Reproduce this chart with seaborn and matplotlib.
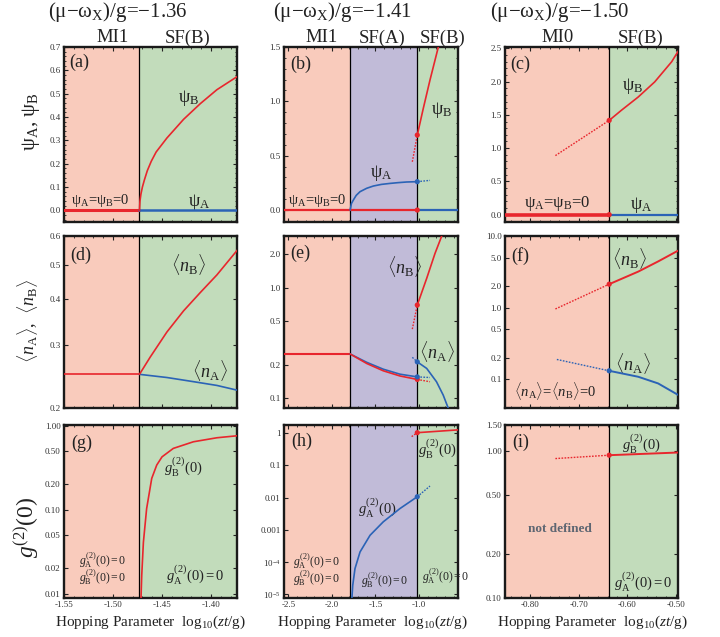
import numpy as np
import pandas as pd
import matplotlib
matplotlib.use("Agg")
import matplotlib.pyplot as plt
import seaborn as sns
from matplotlib.ticker import FixedLocator, FixedFormatter, AutoMinorLocator, NullLocator, NullFormatter

sns.set_theme(style="ticks")
plt.rcParams['font.family'] = ['Liberation Serif', 'DejaVu Serif']
plt.rcParams['mathtext.fontset'] = 'custom'
plt.rcParams['mathtext.rm'] = 'Liberation Serif'
plt.rcParams['mathtext.it'] = 'Liberation Serif:italic'
plt.rcParams['mathtext.bf'] = 'Liberation Serif:bold'
plt.rcParams['axes.unicode_minus'] = False

# ---------------- data ----------------
titles = ["(μ−ω$_{\\mathrm{X}}$)/g=−1.36", "(μ−ω$_{\\mathrm{X}}$)/g=−1.41", "(μ−ω$_{\\mathrm{X}}$)/g=−1.50"]

# phase boundaries
col1_bound = -1.473
col2_bounds = [-1.79, -1.018]
col3_bound = -0.637

# panel (a)
a_x_B = [-1.473, -1.4725, -1.4715, -1.470, -1.468, -1.465, -1.461, -1.456, -1.445, -1.428, -1.411, -1.394, -1.373]
a_psi_B = [0.0, 0.04, 0.07, 0.10, 0.13, 0.17, 0.21, 0.25, 0.31, 0.39, 0.457, 0.517, 0.574]

# panel (b)
b_x_A = [-1.79, -1.775, -1.753, -1.72, -1.676, -1.6, -1.523, -1.43, -1.332, -1.24, -1.14, -1.018]
b_psi_A = [0.0, 0.06, 0.092, 0.135, 0.169, 0.2, 0.221, 0.236, 0.245, 0.252, 0.258, 0.261]
b_x_A_dot = [-1.018, -0.872]
b_psi_A_dot = [0.261, 0.273]
b_x_B = [-1.018, -0.949, -0.872, -0.776, -0.76]
b_psi_B = [0.69, 0.935, 1.196, 1.5, 1.55]
b_x_B_dot = [-1.075, -1.018]
b_psi_B_dot = [0.444, 0.69]

# panel (c)
c_x_B = [-0.637, -0.612, -0.577, -0.543, -0.508, -0.491]
c_psi_B = [1.417, 1.568, 1.769, 1.996, 2.299, 2.50]
c_x_B_dot = [-0.748, -0.637]
c_psi_B_dot = [0.888, 1.417]

# panel (d)
d_n_MI = 0.248
d_x_SF = [-1.473, -1.462, -1.445, -1.428, -1.411, -1.394, -1.373]
d_n_B = [0.248, 0.277, 0.325, 0.372, 0.418, 0.468, 0.549]
d_n_A = [0.248, 0.246, 0.243, 0.239, 0.235, 0.231, 0.224]

# panel (e)
e_n_MI = 0.25
e_x_SFA = [-1.79, -1.599, -1.409, -1.217, -1.018]
e_nB_SFA = [0.25, 0.205, 0.176, 0.158, 0.147]
e_nA_SFA = [0.25, 0.210, 0.182, 0.164, 0.155]
e_x_SFA_dot = [-1.018, -0.872]
e_nA_SFA_dot = [0.155, 0.153]
e_nB_SFA_dot = [0.147, 0.140]
e_x_B_SFB = [-1.018, -0.91, -0.814, -0.737]
e_nB_SFB = [0.694, 1.21, 2.04, 2.93]
e_x_B_dot = [-1.075, -1.018]
e_nB_dot = [0.42, 0.694]
e_x_A_SFB = [-1.018, -0.91, -0.797, -0.72, -0.663]
e_nA_SFB = [0.212, 0.185, 0.14, 0.106, 0.081]
e_x_A_dot = [-1.075, -1.018]
e_nA_dot = [0.233, 0.212]

# panel (f)
f_x = [-0.637, -0.577, -0.536, -0.495]
f_n_B = [2.13, 3.19, 4.42, 6.24]
f_n_A = [0.132, 0.109, 0.088, 0.061]
f_x_B_dot = [-0.748, -0.637]
f_n_B_dot = [0.961, 2.13]
f_x_A_dot = [-0.745, -0.637]
f_n_A_dot = [0.19, 0.132]

# panel (g)
g_x = [-1.4719, -1.4707, -1.469, -1.4657, -1.4605, -1.4554, -1.450, -1.4385, -1.418, -1.394, -1.373]
g_g2B = [0.006, 0.0165, 0.041, 0.103, 0.236, 0.34, 0.426, 0.537, 0.644, 0.719, 0.76]

# panel (h)
h_x_A = [-1.774, -1.76, -1.734, -1.676, -1.561, -1.409, -1.217, -1.018]
h_g2A = [5e-6, 1.9e-5, 6.3e-5, 2.07e-4, 6.8e-4, 1.78e-3, 4.6e-3, 0.0107]
h_x_A_dot = [-1.018, -0.872]
h_g2A_dot = [0.0107, 0.023]
h_x_B = [-1.018, -0.55]
h_g2B = [1.04, 1.27]
h_x_B_dot = [-1.083, -1.018]
h_g2B_dot = [0.785, 1.04]

# panel (i)
i_x_B = [-0.637, -0.495]
i_g2B = [0.935, 0.975]
i_x_B_dot = [-0.748, -0.637]
i_g2B_dot = [0.887, 0.935]

# axes ranges / ticks
col_xlims = [(-1.55, -1.3735), (-2.55, -0.55), (-0.852, -0.495)]
col_xticks = [[-1.55, -1.50, -1.45, -1.40], [-2.5, -2.0, -1.5, -1.0], [-0.80, -0.70, -0.60, -0.50]]
col_xticklabels = [["-1.55", "-1.50", "-1.45", "-1.40"], ["-2.5", "-2.0", "-1.5", "-1.0"],
                   ["-0.80", "-0.70", "-0.60", "-0.50"]]

a_yticks = [0.0, 0.1, 0.2, 0.3, 0.4, 0.5, 0.6, 0.7]
b_yticks = [0.0, 0.5, 1.0, 1.5]
c_yticks = [0.0, 0.5, 1.0, 1.5, 2.0, 2.5]
d_yticks = [0.2, 0.3, 0.4, 0.5, 0.6]
e_yticks = [0.1, 0.2, 0.5, 1.0, 2.0]
f_yticks = [0.1, 0.2, 0.5, 1.0, 2.0, 5.0, 10.0]
g_yticks = [0.01, 0.02, 0.05, 0.10, 0.20, 0.50, 1.00]
h_yticks = [1e-5, 1e-4, 1e-3, 1e-2, 1e-1, 1]
h_yticklabels = ["$10^{-5}$", "$10^{-4}$", "0.001", "0.01", "0.1", "1"]
i_yticks = [0.10, 0.20, 0.50, 1.00, 1.50]

# ---------------- style ----------------
MI = "#f9cbbc"
SFA = "#c1bbd8"
SFB = "#c2dcbb"
RED = "#e8262d"
BLUE = "#2b63b6"
DOT = (0, (1.2, 1.0))

W, H = 720, 637
fig = plt.figure(figsize=(W / 100, H / 100), dpi=100)

col_left = [64, 284, 505]
col_w = [173, 174, 173]
row_top = [47, 236, 425]
row_bot = [222, 408, 598]

axes = {}
for r in range(3):
    for c in range(3):
        ax = fig.add_axes([col_left[c] / W, 1 - row_bot[r] / H, col_w[c] / W, (row_bot[r] - row_top[r]) / H])
        axes[(r, c)] = ax


def line(ax, x, y, color, lw=1.2, ls='-', z=4):
    df = pd.DataFrame({'x': x, 'y': y})
    sns.lineplot(data=df, x='x', y='y', ax=ax, color=color, linewidth=lw, linestyle=ls,
                 sort=False, estimator=None, zorder=z)


def dots(ax, x, y, color):
    sns.scatterplot(x=x, y=y, ax=ax, color=color, s=14, edgecolor='none', zorder=6)


def setup(ax, col, ylim, yticks, ylabels, log=False, show_x=False):
    ax.set_xlim(col_xlims[col])
    if log:
        ax.set_yscale('log')
    ax.set_ylim(ylim)
    ax.xaxis.set_major_locator(FixedLocator(col_xticks[col]))
    ax.xaxis.set_major_formatter(FixedFormatter(col_xticklabels[col] if show_x else [''] * len(col_xticks[col])))
    ax.xaxis.set_minor_locator(AutoMinorLocator(5))
    ax.yaxis.set_major_locator(FixedLocator(yticks))
    ax.yaxis.set_major_formatter(FixedFormatter(ylabels))
    if log:
        ax.yaxis.set_minor_locator(NullLocator())
        ax.yaxis.set_minor_formatter(NullFormatter())
    else:
        ax.yaxis.set_minor_locator(AutoMinorLocator(5))
    ax.tick_params(which='both', direction='in', top=True, right=True, labelsize=6.5,
                   labelcolor='#333333', pad=2.5, color='#222222')
    ax.tick_params(which='major', length=3, width=0.8)
    ax.tick_params(which='minor', length=1.6, width=0.6)
    for s in ax.spines.values():
        s.set_linewidth(1.7)
        s.set_color('#1a1a1a')
    ax.set_xlabel('')
    ax.set_ylabel('')


def regions(ax, col):
    x0, x1 = col_xlims[col]
    if col == 0:
        ax.axvspan(x0, col1_bound, color=MI, lw=0, zorder=0)
        ax.axvspan(col1_bound, x1, color=SFB, lw=0, zorder=0)
        ax.axvline(col1_bound, color='black', lw=0.9, zorder=3)
    elif col == 1:
        ax.axvspan(x0, col2_bounds[0], color=MI, lw=0, zorder=0)
        ax.axvspan(col2_bounds[0], col2_bounds[1], color=SFA, lw=0, zorder=0)
        ax.axvspan(col2_bounds[1], x1, color=SFB, lw=0, zorder=0)
        for b in col2_bounds:
            ax.axvline(b, color='black', lw=0.9, zorder=3)
    else:
        ax.axvspan(x0, col3_bound, color=MI, lw=0, zorder=0)
        ax.axvspan(col3_bound, x1, color=SFB, lw=0, zorder=0)
        ax.axvline(col3_bound, color='black', lw=0.9, zorder=3)


def txt(ax, x, y, s, size=12, **kw):
    ax.text(x, y, s, transform=ax.transAxes, ha='center', va='center', size=size, color='#222222', **kw)


# ---- (a)
ax = axes[(0, 0)]
regions(ax, 0)
line(ax, [col_xlims[0][0], col1_bound], [0, 0], RED, lw=2.2)
line(ax, [col1_bound, col_xlims[0][1]], [0, 0], BLUE, lw=1.8)
line(ax, a_x_B, a_psi_B, RED)
setup(ax, 0, (-0.05, 0.7), a_yticks, ["%.1f" % v for v in a_yticks])
txt(ax, 0.09, 0.91, "(a)", 13)
txt(ax, 0.72, 0.71, "ψ$_{\\mathrm{B}}$", 13)
txt(ax, 0.78, 0.115, "ψ$_{\\mathrm{A}}$", 13)
txt(ax, 0.21, 0.125, "ψ$_{\\mathrm{A}}$=ψ$_{\\mathrm{B}}$=0", 10.5)

# ---- (b)
ax = axes[(0, 1)]
regions(ax, 1)
line(ax, [col_xlims[1][0], col2_bounds[1]], [0, 0], RED, lw=1.6)
line(ax, [col2_bounds[1], col_xlims[1][1]], [0, 0], BLUE, lw=1.6)
line(ax, b_x_A, b_psi_A, BLUE)
line(ax, b_x_A_dot, b_psi_A_dot, BLUE, lw=1.0, ls=DOT)
line(ax, b_x_B, b_psi_B, RED)
line(ax, b_x_B_dot, b_psi_B_dot, RED, lw=1.0, ls=DOT)
dots(ax, [b_x_B[0]], [b_psi_B[0]], RED)
dots(ax, [b_x_A[-1]], [b_psi_A[-1]], BLUE)
dots(ax, [col2_bounds[1]], [0.0], RED)
setup(ax, 1, (-0.11, 1.5), b_yticks, ["%.1f" % v for v in b_yticks])
txt(ax, 0.095, 0.90, "(b)", 13)
txt(ax, 0.905, 0.64, "ψ$_{\\mathrm{B}}$", 13)
txt(ax, 0.56, 0.28, "ψ$_{\\mathrm{A}}$", 13)
txt(ax, 0.19, 0.122, "ψ$_{\\mathrm{A}}$=ψ$_{\\mathrm{B}}$=0", 10.5)

# ---- (c)
ax = axes[(0, 2)]
regions(ax, 2)
line(ax, [col_xlims[2][0], col3_bound], [0, 0], RED, lw=2.6)
line(ax, [col3_bound, col_xlims[2][1]], [0, 0], BLUE, lw=1.6)
line(ax, c_x_B, c_psi_B, RED)
line(ax, c_x_B_dot, c_psi_B_dot, RED, lw=1.0, ls=DOT)
dots(ax, [c_x_B[0]], [c_psi_B[0]], RED)
dots(ax, [col3_bound], [0.0], RED)
setup(ax, 2, (-0.11, 2.52), c_yticks, ["%.1f" % v for v in c_yticks])
txt(ax, 0.09, 0.90, "(c)", 13)
txt(ax, 0.74, 0.78, "ψ$_{\\mathrm{B}}$", 13)
txt(ax, 0.79, 0.10, "ψ$_{\\mathrm{A}}$", 13)
txt(ax, 0.30, 0.107, "ψ$_{\\mathrm{A}}$=ψ$_{\\mathrm{B}}$=0", 12)

# ---- (d)
ax = axes[(1, 0)]
regions(ax, 0)
line(ax, [col_xlims[0][0], col1_bound], [d_n_MI, d_n_MI], RED)
line(ax, d_x_SF, d_n_A, BLUE)
line(ax, d_x_SF, d_n_B, RED)
setup(ax, 0, (0.2, 0.6), d_yticks, ["%.1f" % v for v in d_yticks], log=True)
txt(ax, 0.095, 0.885, "(d)", 13)
txt(ax, 0.72, 0.835, "$\\langle n_{\\mathrm{B}}\\rangle$", 13)
txt(ax, 0.845, 0.22, "$\\langle n_{\\mathrm{A}}\\rangle$", 13)

# ---- (e)
ax = axes[(1, 1)]
regions(ax, 1)
line(ax, [col_xlims[1][0], col2_bounds[0]], [e_n_MI, e_n_MI], RED, lw=1.5)
line(ax, e_x_SFA, e_nA_SFA, BLUE)
line(ax, e_x_SFA, e_nB_SFA, RED)
line(ax, e_x_SFA_dot, e_nA_SFA_dot, BLUE, lw=1.0, ls=DOT)
line(ax, e_x_SFA_dot, e_nB_SFA_dot, RED, lw=1.0, ls=DOT)
line(ax, e_x_B_SFB, e_nB_SFB, RED)
line(ax, e_x_B_dot, e_nB_dot, RED, lw=1.0, ls=DOT)
line(ax, e_x_A_SFB, e_nA_SFB, BLUE)
line(ax, e_x_A_dot, e_nA_dot, BLUE, lw=1.0, ls=DOT)
dots(ax, [e_x_SFA[-1]], [e_nB_SFA[-1]], RED)
dots(ax, [e_x_SFA[-1]], [e_nA_SFA[-1]], BLUE)
dots(ax, [e_x_A_SFB[0]], [e_nA_SFB[0]], BLUE)
dots(ax, [e_x_B_SFB[0]], [e_nB_SFB[0]], RED)
setup(ax, 1, (0.081, 2.93), e_yticks, ["%.1f" % v for v in e_yticks], log=True)
txt(ax, 0.095, 0.90, "(e)", 13)
txt(ax, 0.69, 0.82, "$\\langle n_{\\mathrm{B}}\\rangle$", 13)
txt(ax, 0.88, 0.33, "$\\langle n_{\\mathrm{A}}\\rangle$", 13)

# ---- (f)
ax = axes[(1, 2)]
regions(ax, 2)
line(ax, f_x, f_n_B, RED, lw=1.4)
line(ax, f_x_B_dot, f_n_B_dot, RED, lw=1.0, ls=DOT)
line(ax, f_x, f_n_A, BLUE, lw=1.4)
line(ax, f_x_A_dot, f_n_A_dot, BLUE, lw=1.0, ls=DOT)
dots(ax, [f_x[0]], [f_n_B[0]], RED)
dots(ax, [f_x[0]], [f_n_A[0]], BLUE)
setup(ax, 2, (0.04, 10.0), f_yticks, ["%.1f" % v for v in f_yticks], log=True)
txt(ax, 0.09, 0.885, "(f)", 13)
txt(ax, 0.72, 0.87, "$\\langle n_{\\mathrm{B}}\\rangle$", 13)
txt(ax, 0.74, 0.26, "$\\langle n_{\\mathrm{A}}\\rangle$", 13)
txt(ax, 0.29, 0.10, "$\\langle n_{\\mathrm{A}}\\rangle$=$\\langle n_{\\mathrm{B}}\\rangle$=0", 10.5)

# ---- (g)
ax = axes[(2, 0)]
regions(ax, 0)
line(ax, g_x, g_g2B, RED)
setup(ax, 0, (0.0089, 1.02), g_yticks, ["%.2f" % v for v in g_yticks], log=True, show_x=True)
txt(ax, 0.10, 0.895, "(g)", 13)
txt(ax, 0.69, 0.76, "$g_{\\mathrm{B}}^{(2)}(0)$", 10.5)
txt(ax, 0.76, 0.133, "$g_{\\mathrm{A}}^{(2)}(0)=0$", 10.5)
txt(ax, 0.225, 0.22, "$g_{\\mathrm{A}}^{(2)}(0)=0$", 8.5)
txt(ax, 0.225, 0.118, "$g_{\\mathrm{B}}^{(2)}(0)=0$", 8.5)

# ---- (h)
ax = axes[(2, 1)]
regions(ax, 1)
line(ax, h_x_A, h_g2A, BLUE)
line(ax, h_x_A_dot, h_g2A_dot, BLUE, lw=1.0, ls=DOT)
line(ax, h_x_B, h_g2B, RED)
line(ax, h_x_B_dot, h_g2B_dot, RED, lw=1.0, ls=DOT)
dots(ax, [h_x_A[-1]], [h_g2A[-1]], BLUE)
dots(ax, [h_x_B[0]], [h_g2B[0]], RED)
setup(ax, 1, (7.7e-6, 1.8), h_yticks, h_yticklabels, log=True, show_x=True)
txt(ax, 0.10, 0.905, "(h)", 13)
txt(ax, 0.535, 0.52, "$g_{\\mathrm{A}}^{(2)}(0)$", 10.5)
txt(ax, 0.88, 0.865, "$g_{\\mathrm{B}}^{(2)}(0)$", 10.5)
txt(ax, 0.93, 0.123, "$g_{\\mathrm{A}}^{(2)}(0)=0$", 8.5)
txt(ax, 0.58, 0.104, "$g_{\\mathrm{B}}^{(2)}(0)=0$", 8.5)
txt(ax, 0.19, 0.215, "$g_{\\mathrm{A}}^{(2)}(0)=0$", 8.5)
txt(ax, 0.19, 0.113, "$g_{\\mathrm{B}}^{(2)}(0)=0$", 8.5)

# ---- (i)
ax = axes[(2, 2)]
regions(ax, 2)
line(ax, i_x_B, i_g2B, RED, lw=1.4)
line(ax, i_x_B_dot, i_g2B_dot, RED, lw=1.0, ls=DOT)
dots(ax, [i_x_B[0]], [i_g2B[0]], RED)
setup(ax, 2, (0.1, 1.5), i_yticks, ["%.2f" % v for v in i_yticks], log=True, show_x=True)
txt(ax, 0.09, 0.90, "(i)", 13)
txt(ax, 0.79, 0.895, "$g_{\\mathrm{B}}^{(2)}(0)$", 10.5)
txt(ax, 0.80, 0.095, "$g_{\\mathrm{A}}^{(2)}(0)=0$", 10.5)
ax.text(0.315, 0.40, "not defined", transform=ax.transAxes, ha='center', va='center',
        size=9.5, weight='bold', color='#5e6672')

# ---- figure texts
for c, cx in enumerate([118, 342, 560]):
    fig.text(cx / W, 1 - 12 / H, titles[c], ha='center', va='center', size=15, color='#222222')

headers = [[("MI1", 113), ("SF(B)", 188)],
           [("MI1", 322), ("SF(A)", 382), ("SF(B)", 443)],
           [("MI0", 558), ("SF(B)", 641)]]
for col in headers:
    for s, hx in col:
        fig.text(hx / W, 1 - 38 / H, s, ha='center', va='center', size=13.5, color='#222222')

fig.text(31 / W, 1 - 122 / H, "ψ$_{\\mathrm{A}}$, ψ$_{\\mathrm{B}}$", rotation=90, ha='center', va='center',
         size=15, color='#222222')
fig.text(27 / W, 1 - 321 / H, "$\\langle n_{\\mathrm{A}}\\rangle$,  $\\langle n_{\\mathrm{B}}\\rangle$", rotation=90,
         ha='center', va='center', size=13, color='#222222')
fig.text(27 / W, 1 - 527 / H, "$g^{(2)}(0)$", rotation=90, ha='center', va='center', size=17, color='#222222')

for cx in [150, 372, 592]:
    fig.text(cx / W, 1 - 622 / H, "Hopping Parameter  log$_{10}$($zt$/g)", ha='center', va='center',
             size=11, color='#222222')

fig.savefig("out.png", dpi=100)
